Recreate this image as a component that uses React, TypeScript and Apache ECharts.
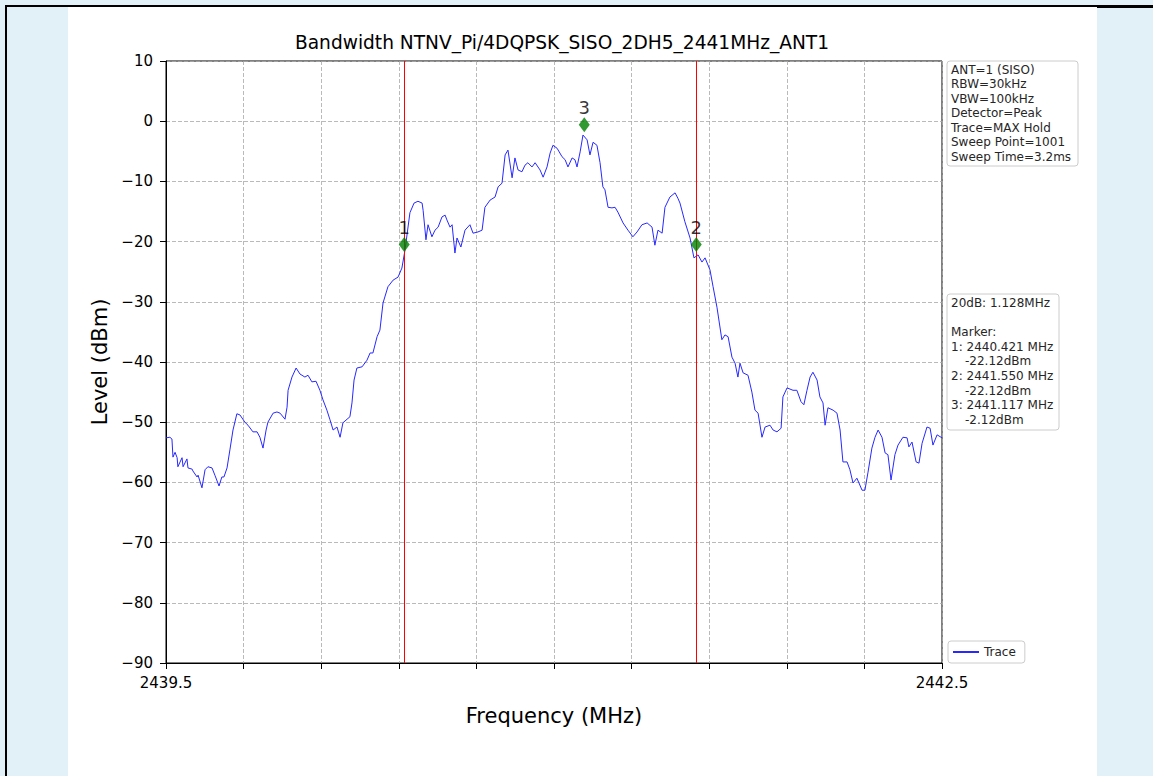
import React, { useEffect, useRef } from 'react';
import * as echarts from 'echarts';

const traceFreq = [2439.500, 2439.515, 2439.523, 2439.527, 2439.535, 2439.543, 2439.546, 2439.562, 2439.566, 2439.581, 2439.585, 2439.601, 2439.604, 2439.620, 2439.624, 2439.639, 2439.651, 2439.662, 2439.678, 2439.689, 2439.705, 2439.716, 2439.724, 2439.736, 2439.747, 2439.759, 2439.774, 2439.786, 2439.805, 2439.817, 2439.836, 2439.852, 2439.863, 2439.875, 2439.887, 2439.894, 2439.914, 2439.929, 2439.941, 2439.960, 2439.968, 2439.972, 2439.987, 2440.003, 2440.018, 2440.037, 2440.049, 2440.064, 2440.080, 2440.095, 2440.107, 2440.122, 2440.134, 2440.146, 2440.161, 2440.173, 2440.184, 2440.200, 2440.211, 2440.219, 2440.227, 2440.238, 2440.258, 2440.277, 2440.289, 2440.300, 2440.316, 2440.327, 2440.339, 2440.358, 2440.378, 2440.397, 2440.412, 2440.424, 2440.443, 2440.459, 2440.474, 2440.490, 2440.494, 2440.505, 2440.513, 2440.528, 2440.540, 2440.552, 2440.567, 2440.579, 2440.586, 2440.598, 2440.606, 2440.617, 2440.625, 2440.640, 2440.656, 2440.675, 2440.687, 2440.706, 2440.722, 2440.733, 2440.753, 2440.772, 2440.784, 2440.799, 2440.811, 2440.822, 2440.838, 2440.849, 2440.861, 2440.876, 2440.888, 2440.899, 2440.915, 2440.927, 2440.946, 2440.958, 2440.973, 2440.985, 2440.996, 2441.012, 2441.031, 2441.043, 2441.054, 2441.070, 2441.081, 2441.089, 2441.101, 2441.112, 2441.128, 2441.139, 2441.151, 2441.166, 2441.178, 2441.189, 2441.197, 2441.209, 2441.224, 2441.236, 2441.247, 2441.267, 2441.286, 2441.305, 2441.321, 2441.340, 2441.360, 2441.379, 2441.390, 2441.402, 2441.418, 2441.429, 2441.448, 2441.468, 2441.479, 2441.487, 2441.506, 2441.526, 2441.541, 2441.557, 2441.572, 2441.584, 2441.603, 2441.615, 2441.630, 2441.649, 2441.661, 2441.673, 2441.688, 2441.700, 2441.711, 2441.719, 2441.731, 2441.750, 2441.765, 2441.777, 2441.789, 2441.804, 2441.816, 2441.835, 2441.847, 2441.862, 2441.878, 2441.885, 2441.901, 2441.924, 2441.939, 2441.955, 2441.966, 2441.978, 2441.990, 2442.001, 2442.017, 2442.028, 2442.040, 2442.048, 2442.059, 2442.079, 2442.094, 2442.106, 2442.117, 2442.133, 2442.144, 2442.156, 2442.171, 2442.191, 2442.202, 2442.214, 2442.229, 2442.241, 2442.253, 2442.268, 2442.280, 2442.291, 2442.303, 2442.318, 2442.330, 2442.349, 2442.365, 2442.372, 2442.384, 2442.400, 2442.411, 2442.423, 2442.442, 2442.454, 2442.465, 2442.481, 2442.500];

const traceLevel = [-52.6, -52.5, -52.8, -55.8, -55.0, -55.9, -57.4, -55.9, -57.4, -56.1, -57.6, -57.8, -58.1, -59.1, -58.8, -60.9, -57.9, -57.4, -57.6, -58.8, -60.6, -59.1, -59.1, -57.6, -54.6, -51.3, -48.6, -48.8, -50.0, -50.5, -51.6, -51.6, -52.5, -54.3, -51.3, -50.0, -48.5, -48.3, -48.5, -49.5, -47.5, -44.7, -42.5, -41.0, -42.0, -42.5, -42.2, -43.3, -43.2, -44.7, -46.3, -48.0, -49.6, -51.3, -50.8, -52.5, -50.1, -49.5, -49.1, -46.8, -43.0, -41.0, -40.8, -39.7, -38.5, -38.5, -35.8, -34.7, -30.2, -27.5, -26.4, -25.9, -24.4, -21.4, -15.2, -13.6, -13.3, -13.6, -14.8, -19.7, -17.2, -19.2, -18.1, -17.6, -15.9, -15.6, -16.4, -17.6, -17.2, -21.9, -19.4, -20.9, -18.1, -17.2, -18.6, -18.4, -18.1, -14.3, -13.1, -12.6, -10.9, -10.3, -5.6, -4.8, -9.4, -6.1, -8.1, -8.4, -7.3, -6.9, -7.6, -6.9, -8.1, -9.3, -7.6, -5.3, -4.0, -4.5, -5.9, -6.4, -7.6, -6.1, -6.4, -7.6, -5.1, -2.3, -3.1, -5.6, -3.5, -4.0, -6.9, -10.9, -11.4, -14.3, -14.4, -14.3, -15.1, -16.9, -18.1, -19.2, -18.4, -17.2, -16.9, -17.6, -20.6, -18.1, -18.6, -14.3, -12.6, -11.9, -12.8, -13.6, -16.7, -19.4, -22.7, -22.2, -23.4, -22.7, -24.7, -27.5, -30.9, -36.3, -35.5, -35.8, -39.2, -40.2, -42.5, -40.2, -41.8, -42.2, -45.0, -48.0, -48.5, -52.5, -50.8, -50.5, -51.3, -51.6, -51.0, -45.8, -44.3, -44.7, -44.7, -46.6, -47.1, -44.7, -42.5, -41.7, -43.0, -45.8, -46.8, -50.5, -47.6, -48.0, -48.5, -51.3, -56.6, -56.6, -57.9, -60.1, -59.3, -61.3, -61.3, -58.3, -54.3, -52.5, -51.3, -52.5, -55.1, -55.4, -59.6, -55.4, -53.8, -52.5, -52.6, -54.1, -53.3, -56.6, -56.8, -53.5, -50.8, -51.0, -53.8, -52.1, -52.6];

const markerNames = ['1', '2', '3'];
const markerFreq = [2440.421, 2441.55, 2441.117];
const markerLevel = [-20.5, -20.5, -0.6];
const edgeFreq = [2440.421, 2441.55];

const xTickLabels = ['2439.5', '', '', '', '', '', '', '', '', '', '2442.5'];

const infoLines = ['ANT=1 (SISO)', 'RBW=30kHz', 'VBW=100kHz', 'Detector=Peak', 'Trace=MAX Hold', 'Sweep Point=1001', 'Sweep Time=3.2ms'];
const resultLines = ['20dB: 1.128MHz', '', 'Marker:', '1: 2440.421 MHz', '  -22.12dBm', '2: 2441.550 MHz', '  -22.12dBm', '3: 2441.117 MHz', '  -2.12dBm'];

const TITLE = 'Bandwidth NTNV_Pi/4DQPSK_SISO_2DH5_2441MHz_ANT1';
const FONT = 'DejaVu Sans';

export default function App() {
  const ref = useRef<HTMLDivElement>(null);
  useEffect(() => {
    if (!ref.current) return;
    const chart = echarts.init(ref.current, undefined, { renderer: 'svg' });
    const n = Math.min(traceFreq.length, traceLevel.length);
    const traceData: number[][] = [];
    for (let i = 0; i < n; i++) traceData.push([traceFreq[i], traceLevel[i]]);

    const box1X = 947, box1Y = 61, lineH = 14.45;
    const box2X = 947, box2Y = 294;
    const graphics: any[] = [
      { type: 'rect', z: -10, shape: { x: 68, y: 7, width: 1029, height: 769 }, style: { fill: '#ffffff' }, silent: true },
      { type: 'rect', z: -9, shape: { x: 5, y: 5, width: 1092, height: 2 }, style: { fill: '#000000' }, silent: true },
      { type: 'rect', z: -9, shape: { x: 1097, y: 5, width: 56, height: 3 }, style: { fill: '#000000' }, silent: true },
      { type: 'rect', z: -9, shape: { x: 5, y: 5, width: 2, height: 771 }, style: { fill: '#000000' }, silent: true },
      { type: 'rect', z: 20, shape: { x: box1X, y: box1Y, width: 131, height: 105, r: 3 }, style: { fill: '#ffffff', stroke: '#cccccc', lineWidth: 1 } },
      { type: 'rect', z: 20, shape: { x: box2X, y: box2Y, width: 112, height: 136, r: 3 }, style: { fill: '#ffffff', stroke: '#cccccc', lineWidth: 1 } },
    ];
    infoLines.forEach((t, i) => {
      graphics.push({ type: 'text', z: 21, x: 951, y: 70 + i * lineH, style: { text: t, fontSize: 12, fontFamily: FONT, fill: '#262626', textVerticalAlign: 'middle' } });
    });
    resultLines.forEach((t, i) => {
      if (!t) return;
      const indent = t.startsWith(' ');
      graphics.push({ type: 'text', z: 21, x: indent ? 965 : 951, y: 303 + i * 14.6, style: { text: t.trim(), fontSize: 12, fontFamily: FONT, fill: '#262626', textVerticalAlign: 'middle' } });
    });

    chart.setOption({
      animation: false,
      backgroundColor: '#e2f0f8',
      textStyle: { fontFamily: FONT },
      title: {
        text: TITLE, left: 562, top: 33, textAlign: 'center', padding: 0,
        textStyle: { fontSize: 18.6, fontWeight: 'normal', fontFamily: FONT, color: '#000' },
      },
      grid: { left: 166, top: 61, width: 776, height: 602, show: true, borderColor: '#000', borderWidth: 1, backgroundColor: 'transparent' },
      legend: {
        data: ['Trace'], left: 948, top: 641, orient: 'vertical', icon: 'rect', itemWidth: 26, itemHeight: 2,
        padding: [5, 9, 5, 5], borderColor: '#cccccc', borderWidth: 1, borderRadius: 3, backgroundColor: '#ffffff',
        textStyle: { fontSize: 12, color: '#262626', fontFamily: FONT },
      },
      xAxis: [
        {
          type: 'value', min: 0, max: 10, interval: 1, position: 'bottom',
          name: 'Frequency (MHz)', nameLocation: 'middle', nameGap: 42,
          nameTextStyle: { fontSize: 21, color: '#000', fontFamily: FONT },
          axisLine: { show: true, onZero: false, lineStyle: { color: '#000', width: 1 } },
          axisTick: { show: true, length: 6, lineStyle: { color: '#000', width: 1 } },
          axisLabel: { show: true, showMinLabel: true, showMaxLabel: true, margin: 12, fontSize: 15, color: '#000', fontFamily: FONT, formatter: (v: number) => xTickLabels[Math.round(v)] ?? '' },
          splitLine: { show: true, lineStyle: { color: '#a8a8a8', type: [4, 2], width: 0.8 } },
        },
        { type: 'value', min: 2439.5, max: 2442.5, show: false, position: 'top', axisLine: { onZero: false } },
      ],
      yAxis: {
        type: 'value', min: -90, max: 10, interval: 10,
        name: 'Level (dBm)', nameLocation: 'middle', nameGap: 56,
        nameTextStyle: { fontSize: 21, color: '#000', fontFamily: FONT },
        axisLine: { show: true, onZero: false, lineStyle: { color: '#000', width: 1 } },
        axisTick: { show: true, length: 6, lineStyle: { color: '#000', width: 1 } },
        axisLabel: { margin: 13, fontSize: 15, color: '#000', fontFamily: FONT, formatter: (v: number) => (v < 0 ? '\u2212' + Math.abs(v) : String(v)) },
        splitLine: { show: true, lineStyle: { color: '#a8a8a8', type: [4, 2], width: 0.8 } },
      },
      series: [
        {
          name: 'Trace', type: 'line', xAxisIndex: 1, data: traceData, showSymbol: false, symbol: 'none',
          lineStyle: { color: '#2828ff', width: 1 }, itemStyle: { color: '#2828ff' }, z: 3,
          markLine: {
            silent: true, symbol: ['none', 'none'], label: { show: false },
            lineStyle: { color: '#ff0000', width: 1, type: 'solid' },
            data: edgeFreq.map((f) => ({ xAxis: f })),
          },
        },
        {
          name: 'Markers', type: 'scatter', xAxisIndex: 1, symbol: 'diamond', symbolSize: [11, 15], z: 5,
          itemStyle: { color: '#007f00' },
          label: { show: true, position: 'top', distance: 1, formatter: '{b}', fontSize: 18, color: '#000', fontFamily: FONT },
          data: markerNames.map((nm, i) => ({ name: nm, value: [markerFreq[i], markerLevel[i]] })),
        },
      ],
      graphic: graphics,
    });
    return () => chart.dispose();
  }, []);
  return <div ref={ref} style={{ position: 'fixed', left: 0, top: 0, width: 1153, height: 776 }} />;
}
